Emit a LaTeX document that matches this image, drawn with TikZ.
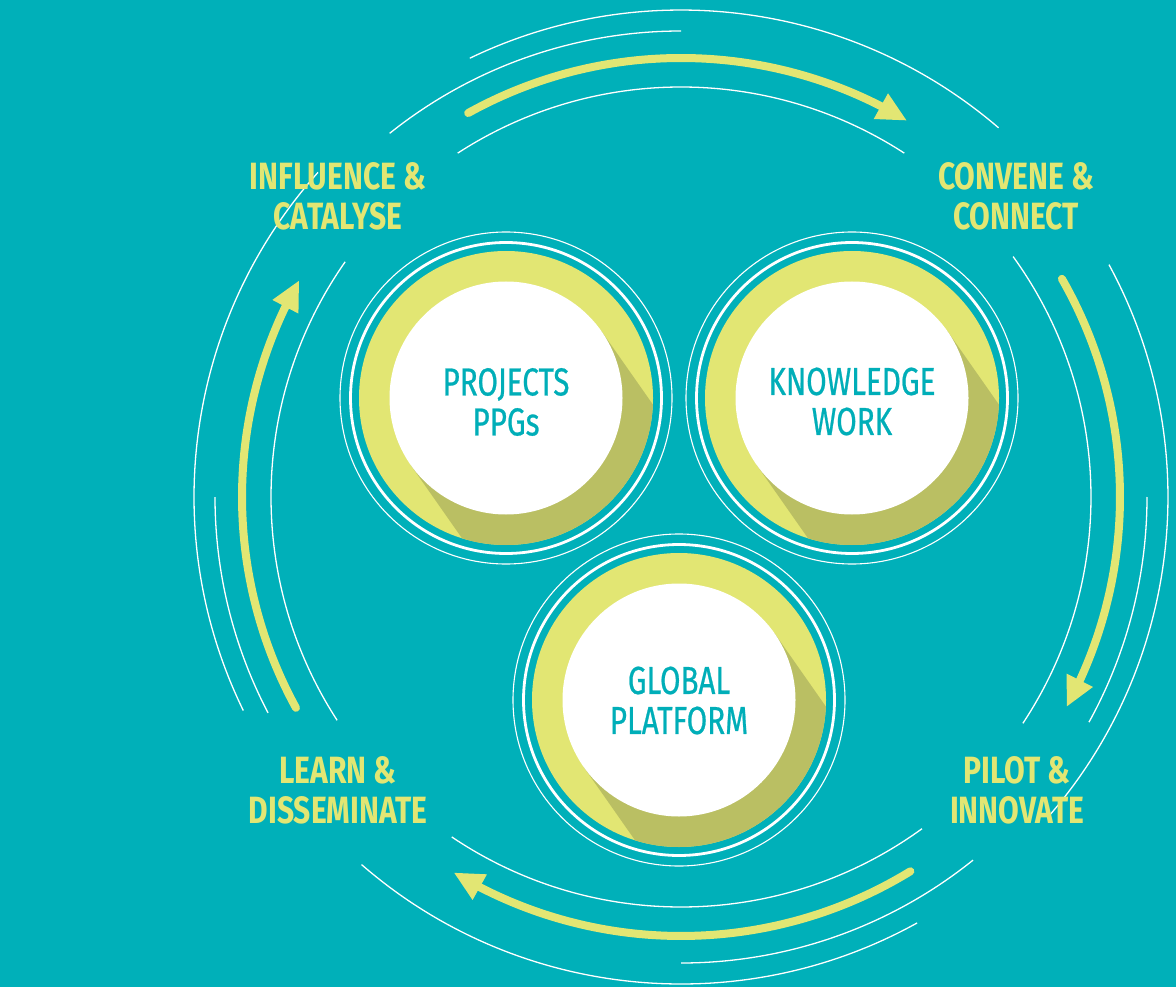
\documentclass[tikz,border=0pt]{standalone}
\usepackage{fontspec}
\newfontfamily\lblfont[FakeStretch=0.79]{Fira Sans}
\newfontfamily\hubfont[FakeStretch=0.76,FakeBold=0.6]{Fira Sans}
\usetikzlibrary{arrows.meta,bending}
\definecolor{teal0}{HTML}{00B0B9}
\definecolor{ylw}{HTML}{E2E673}
\definecolor{olv}{HTML}{BABF63}
\definecolor{hubtxt}{HTML}{00AEB8}
\tikzset{
  wline/.style={draw=white, line width=1.3pt},
  cyclearrow/.style={draw=ylw, line width=8pt, line cap=round, -{Triangle[length=30pt,width=27pt,flex]}},
  stagelabel/.style={text=ylw, align=center, inner sep=0pt, font=\lblfont\bfseries\fontsize{38}{40}\selectfont},
  hubdisk/.style={circle, fill=white, minimum size=233pt, inner sep=0pt},
  hublabel/.style={text=hubtxt, align=center, inner sep=0pt, font=\hubfont\fontsize{39}{40}\selectfont},
}
\newcommand\hubdraw[2]{%
  \fill[ylw] (#2) circle[radius=147];
  \begin{scope}
    \clip (#2) circle[radius=147];
    \fill[olv] (#2) +(95.4,-66.9) -- +(210.2,96.9) -- +(19.4,230.7) -- +(-95.4,66.9) -- cycle;
  \end{scope}
  \draw[white, line width=2.8pt] (#2) circle[radius=155.5];
  \draw[white, line width=1.1pt] (#2) circle[radius=166];
  \node[hubdisk] (#1) at (#2) {};
}
\begin{document}
\begin{tikzpicture}[x=1pt,y=-1pt]
\useasboundingbox (0,0) rectangle (1176,987);
\fill[teal0] (0,0) rectangle (1176,987);
\coordinate (O) at (681,497);
% white arcs and cycle arrows
\begin{scope}[shift={(O)}, yscale=-1]
  % outer arcs r=487
  \draw[wline] (49.3:487) arc[start angle=49.3, end angle=115.7, radius=487];
  \draw[wline] (138.2:487) arc[start angle=138.2, end angle=206, radius=487];
  \draw[wline] (229:487) arc[start angle=229, end angle=299, radius=487];
  \draw[wline] (-40.6:487) arc[start angle=-40.6, end angle=28.5, radius=487];
  % short arcs r=466
  \draw[wline] (90:466) arc[start angle=90, end angle=128.7, radius=466];
  \draw[wline] (180:466) arc[start angle=180, end angle=207.6, radius=466];
  \draw[wline] (270:466) arc[start angle=270, end angle=308.8, radius=466];
  \draw[wline] (0:466) arc[start angle=0, end angle=-28.9, radius=466];
  % inner arcs r=410
  \draw[wline] (57:410) arc[start angle=57, end angle=123, radius=410];
  \draw[wline] (145:410) arc[start angle=145, end angle=213, radius=410];
  \draw[wline] (236:410) arc[start angle=236, end angle=306, radius=410];
  \draw[wline] (-33.5:410) arc[start angle=-33.5, end angle=35.9, radius=410];
  % arrows r=439
  \draw[cyclearrow] (119:439) arc[start angle=119, end angle=59, radius=439];
  \draw[cyclearrow] (29.8:439) arc[start angle=29.8, end angle=-28.6, radius=439];
  \draw[cyclearrow] (301.5:439) arc[start angle=301.5, end angle=238.8, radius=439];
  \draw[cyclearrow] (208.7:439) arc[start angle=208.7, end angle=150.4, radius=439];
\end{scope}
% hubs
\hubdraw{projects}{506,398}
\hubdraw{knowledge}{852,398}
\hubdraw{global}{679,700}
\node[hublabel] (projects-t) at (506,402) {PROJECTS\\PPGs};
\node[hublabel] (knowledge-t) at (852,401.5) {KNOWLEDGE\\WORK};
\node[hublabel] (global-t) at (679,700.5) {GLOBAL\\PLATFORM};
% stage labels
\node[stagelabel] (influence) at (338,196) {INFLUENCE \&\\CATALYSE};
\node[stagelabel] (convene) at (1016,196.5) {CONVENE \&\\CONNECT};
\node[stagelabel] (learn) at (338,790.5) {LEARN \&\\DISSEMINATE};
\node[stagelabel] (pilot) at (1017,790) {PILOT \&\\INNOVATE};
\end{tikzpicture}
\end{document}
